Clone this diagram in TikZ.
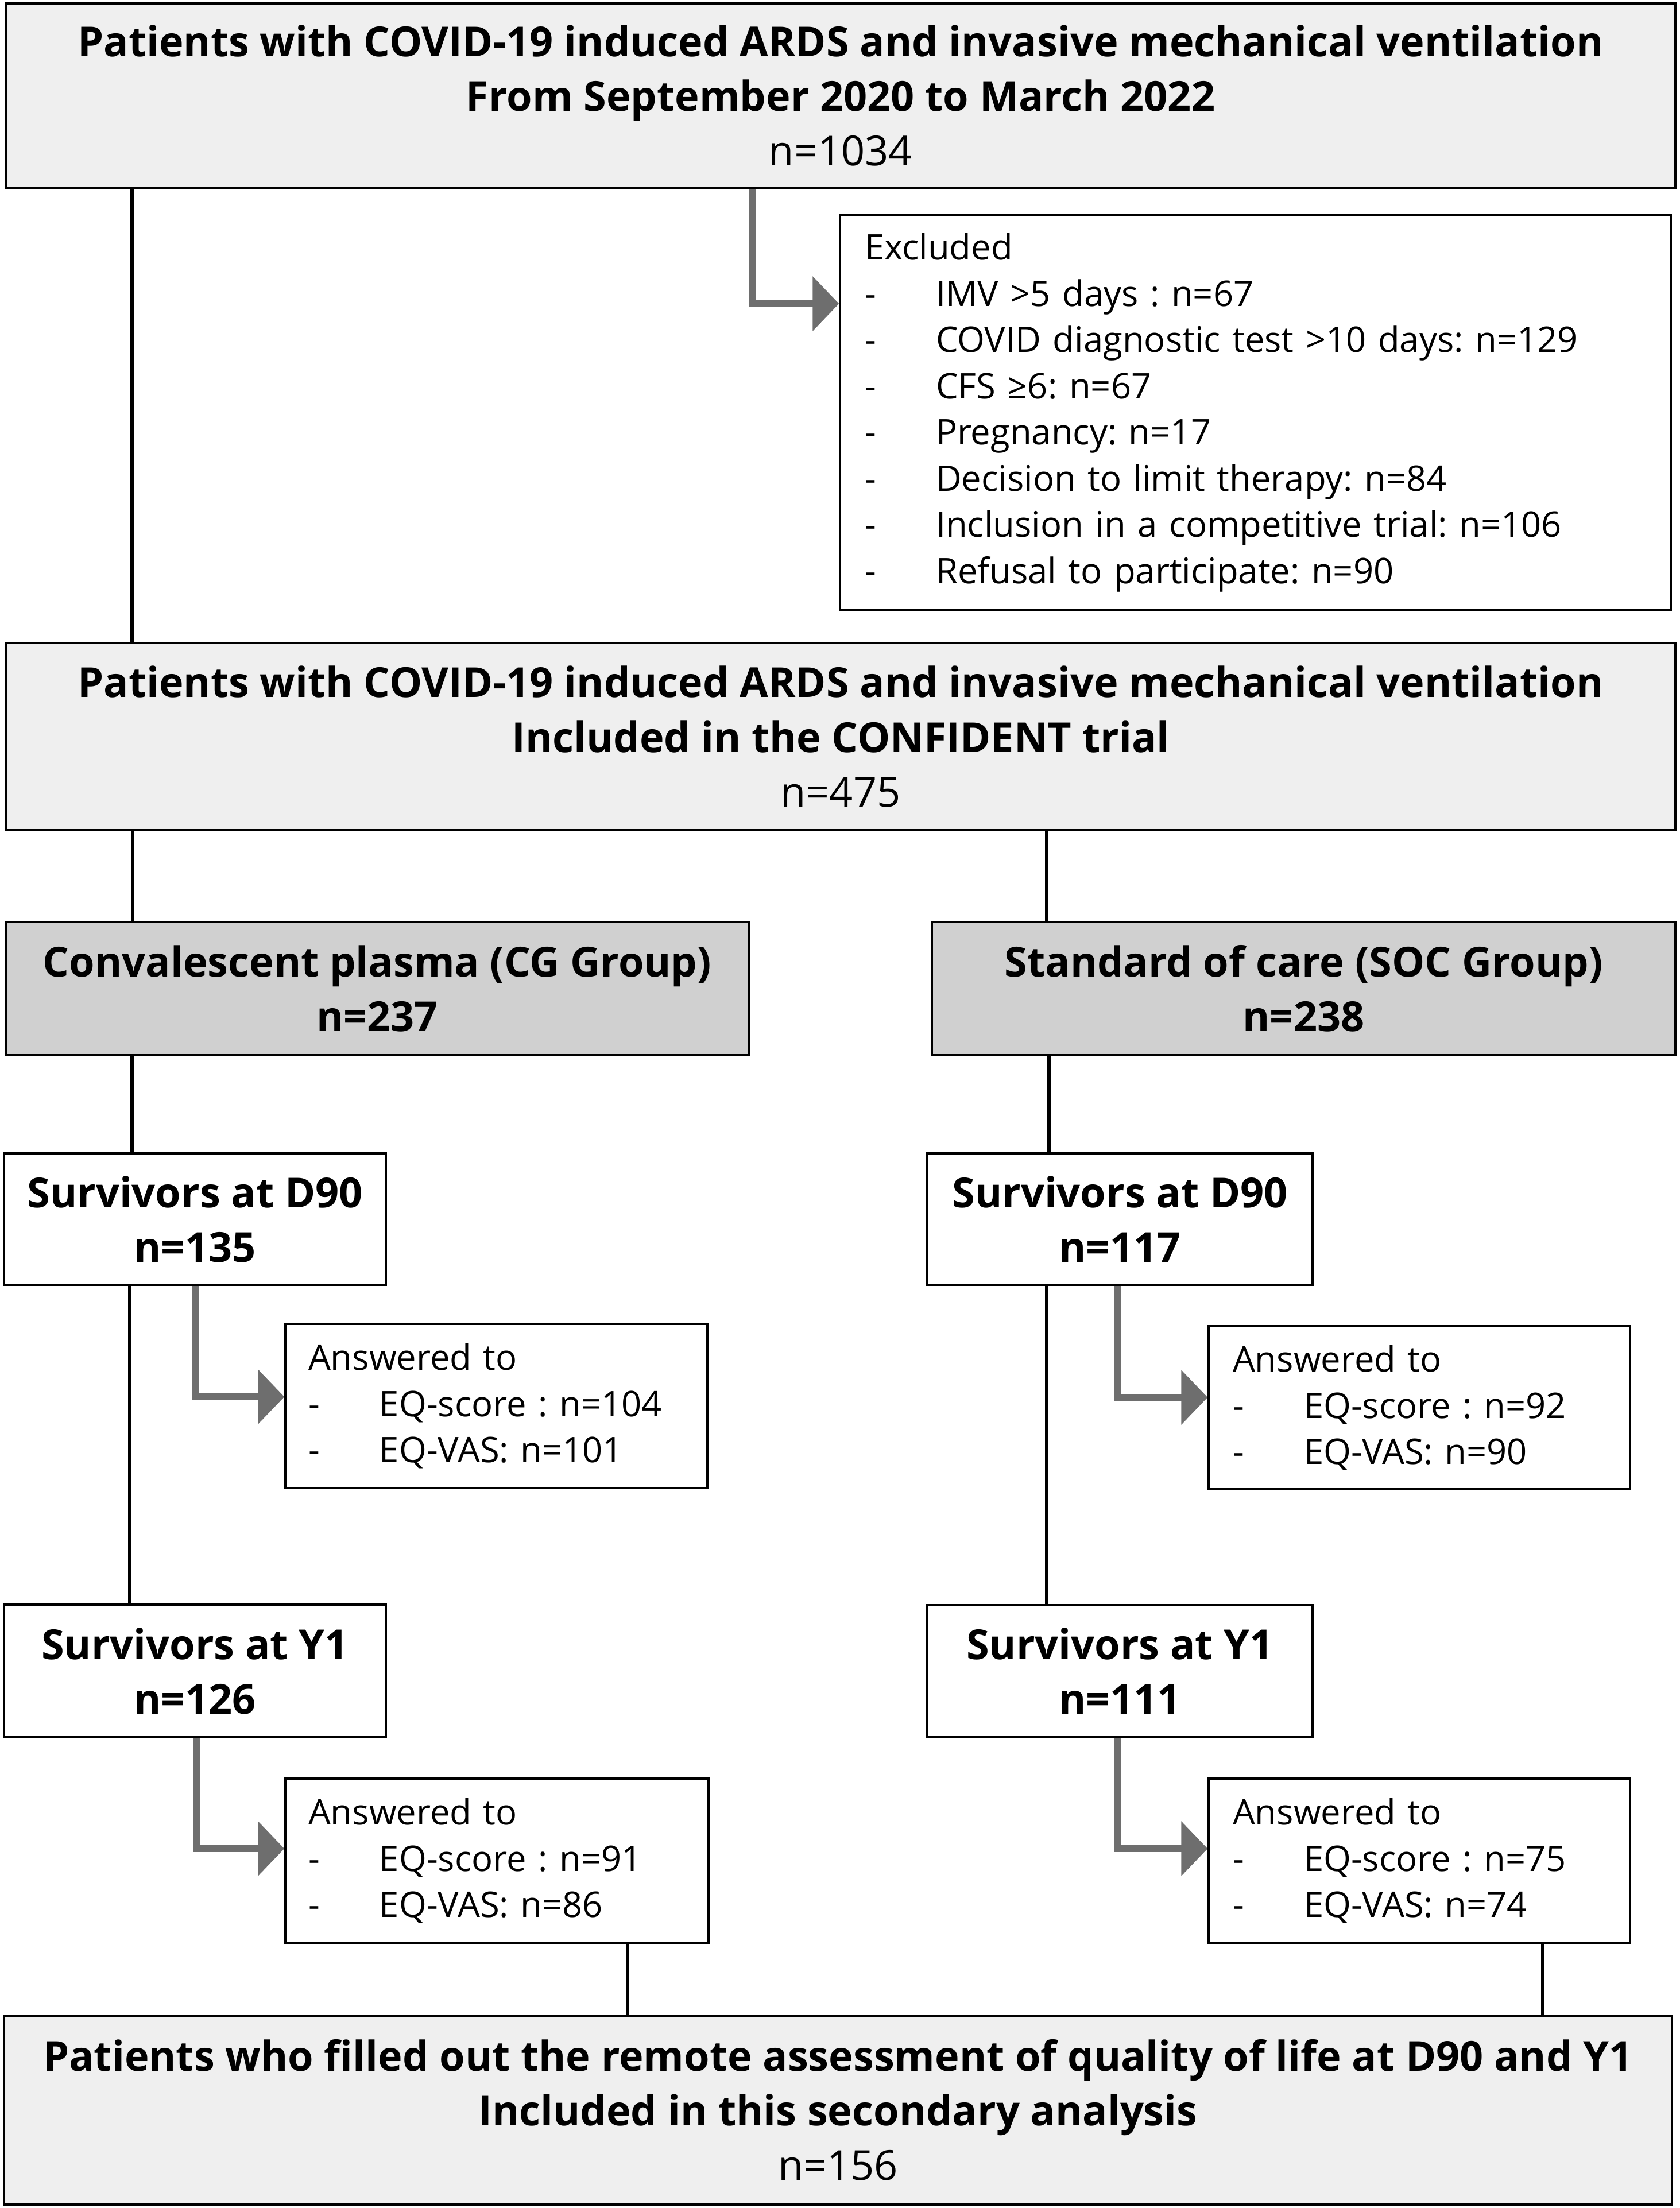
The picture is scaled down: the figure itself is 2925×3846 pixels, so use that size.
\documentclass[tikz,border=0pt]{standalone}
\usepackage{fontspec}
\setmainfont{Open Sans}
\usetikzlibrary{arrows.meta}
\definecolor{lightfill}{HTML}{EFEFEF}
\definecolor{midfill}{HTML}{D0D0D0}
\definecolor{arrowgray}{HTML}{6E6E6E}
\newcommand\mkbox[7]{%
  \node[#2, minimum width={(#5-#3)*0.2pt}, minimum height={(#6-#4)*0.2pt}] (#1) at ({(#3+#5)/2},{(#4+#6)/2}) {#7};}
\newcommand\dashitem[1]{\makebox[24.8pt][l]{-}#1}
\newcommand\bigfont{\fontsize{14.4}{19}\selectfont}
\newcommand\smallfont{\fontsize{12.3}{16.1}\selectfont}
\begin{document}
\frenchspacing
\begin{tikzpicture}[x=0.2pt,y=-0.2pt,
  basebox/.style={draw=black, line width=0.7pt, rectangle, inner sep=0pt},
  titlebox/.style={basebox, fill=lightfill, align=center, font=\bigfont},
  groupbox/.style={basebox, fill=midfill, align=center, font=\bigfont\bfseries},
  survbox/.style={basebox, fill=white, align=center, font=\bigfont\bfseries},
  listbox/.style={basebox, fill=white, align=left, font=\smallfont},
  conn/.style={draw=black, line width=1.3pt},
  garrow/.style={draw=arrowgray, line width=2.4pt, -{Triangle[length=9.2pt,width=18.6pt]}}
]
\useasboundingbox (0,0) rectangle (2925,3846);

\mkbox{top}{titlebox}{10}{6}{2918}{328}{\textbf{Patients with COVID-19 induced ARDS and invasive mechanical ventilation}\\ \textbf{From September 2020 to March 2022}\\ n=1034}
\mkbox{excl}{listbox, text width={(2910-1463-86)*0.2pt}}{1463}{375}{2910}{1062}{Excluded\\ \dashitem{IMV >5 days : n=67}\\ \dashitem{COVID diagnostic test >10 days: n=129}\\ \dashitem{CFS ≥6: n=67}\\ \dashitem{Pregnancy: n=17}\\ \dashitem{Decision to limit therapy: n=84}\\ \dashitem{Inclusion in a competitive trial: n=106}\\ \dashitem{Refusal to participate: n=90}}
\mkbox{trial}{titlebox}{10}{1120}{2918}{1446}{\textbf{Patients with COVID-19 induced ARDS and invasive mechanical ventilation}\\ \textbf{Included in the CONFIDENT trial}\\ n=475}
\mkbox{cg}{groupbox}{10}{1606}{1304}{1838}{Convalescent plasma (CG Group)\\ n=237}
\mkbox{soc}{groupbox}{1623}{1606}{2918}{1838}{Standard of care (SOC Group)\\ n=238}
\mkbox{d90L}{survbox}{7}{2009}{672}{2238}{Survivors at D90\\ n=135}
\mkbox{d90R}{survbox}{1615}{2009}{2286}{2238}{Survivors at D90\\ n=117}
\mkbox{ansL1}{listbox, text width={(1232-497-80)*0.2pt}}{497}{2306}{1232}{2592}{Answered to\\ \dashitem{EQ-score : n=104}\\ \dashitem{EQ-VAS: n=101}}
\mkbox{ansR1}{listbox, text width={(2839-2105-84)*0.2pt}}{2105}{2310}{2839}{2594}{Answered to\\ \dashitem{EQ-score : n=92}\\ \dashitem{EQ-VAS: n=90}}
\mkbox{y1L}{survbox}{7}{2795}{672}{3026}{Survivors at Y1\\ n=126}
\mkbox{y1R}{survbox}{1615}{2796}{2286}{3026}{Survivors at Y1\\ n=111}
\mkbox{ansL2}{listbox, text width={(1234-497-80)*0.2pt}}{497}{3098}{1234}{3384}{Answered to\\ \dashitem{EQ-score : n=91}\\ \dashitem{EQ-VAS: n=86}}
\mkbox{ansR2}{listbox, text width={(2839-2105-84)*0.2pt}}{2105}{3098}{2839}{3384}{Answered to\\ \dashitem{EQ-score : n=75}\\ \dashitem{EQ-VAS: n=74}}
\mkbox{final}{titlebox}{7}{3511}{2912}{3840}{\textbf{Patients who filled out the remote assessment of quality of life at D90 and Y1}\\ \textbf{Included in this secondary analysis}\\ n=156}

% black connectors
\draw[conn] (top.south -| 230,0) -- (trial.north -| 230,0);
\draw[conn] (trial.south -| 231,0) -- (cg.north -| 231,0);
\draw[conn] (trial.south -| 1823,0) -- (soc.north -| 1823,0);
\draw[conn] (cg.south -| 230,0) -- (d90L.north -| 230,0);
\draw[conn] (soc.south -| 1827,0) -- (d90R.north -| 1827,0);
\draw[conn] (d90L.south -| 226,0) -- (y1L.north -| 226,0);
\draw[conn] (d90R.south -| 1823,0) -- (y1R.north -| 1823,0);
\draw[conn] (ansL2.south -| 1093,0) -- (final.north -| 1093,0);
\draw[conn] (ansR2.south -| 2687,0) -- (final.north -| 2687,0);

% gray elbow arrows
\draw[garrow] (top.south -| 1311,0) |- (excl.west |- 0,529);
\draw[garrow] (d90L.south -| 341,0) |- (ansL1.west |- 0,2433);
\draw[garrow] (d90R.south -| 1946,0) |- (ansR1.west |- 0,2434);
\draw[garrow] (y1L.south -| 342,0) |- (ansL2.west |- 0,3220);
\draw[garrow] (y1R.south -| 1946,0) |- (ansR2.west |- 0,3220);
\end{tikzpicture}
\end{document}
